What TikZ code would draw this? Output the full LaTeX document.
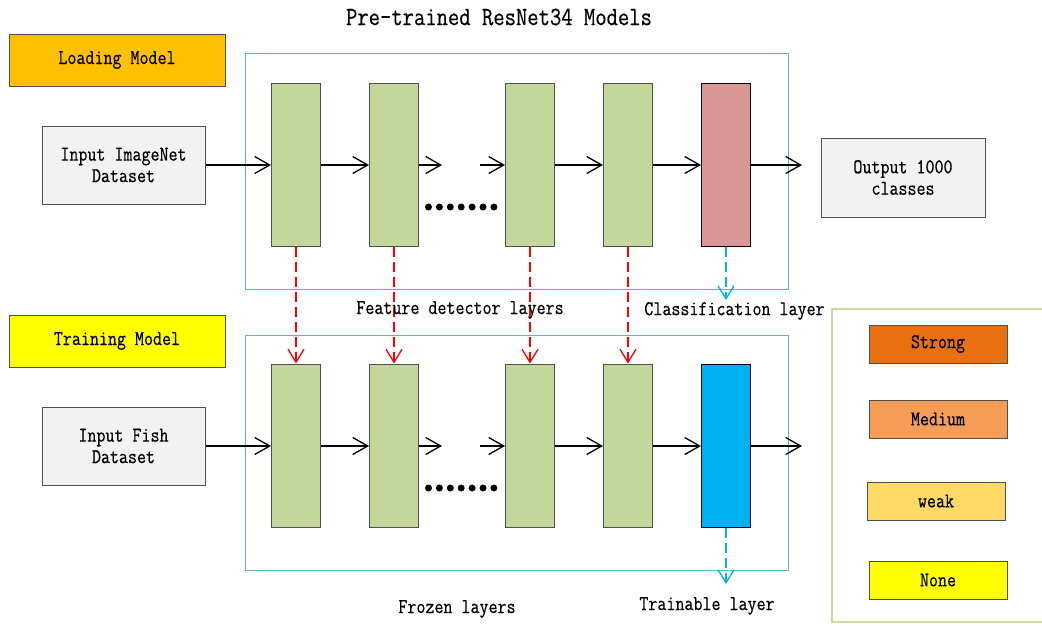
\documentclass[tikz,border=0pt]{standalone}
\usepackage{fontspec}
\usepackage{graphicx}
\setmonofont{Latin Modern Mono}[FakeBold=0.5]
\usetikzlibrary{arrows.meta}
\newcommand\tallt[1]{\scalebox{1}[1.2]{#1}}
\definecolor{frameblue}{RGB}{91,180,210}
\definecolor{legendgreen}{RGB}{195,224,160}
\definecolor{layergreen}{RGB}{196,215,155}
\definecolor{layerred}{RGB}{217,150,148}
\definecolor{layerblue}{RGB}{0,176,240}
\definecolor{inputgrey}{RGB}{242,242,242}
\definecolor{loadorange}{RGB}{255,192,0}
\definecolor{strongc}{RGB}{233,112,16}
\definecolor{mediumc}{RGB}{245,157,86}
\definecolor{weakc}{RGB}{255,217,102}
\definecolor{nonec}{RGB}{255,255,0}
\definecolor{edgegrey}{RGB}{80,80,80}
\definecolor{dashred}{RGB}{255,0,0}
\tikzset{
  txt/.style={font=\ttfamily\fontsize{17.5}{21.5}\selectfont, align=center},
  layerbox/.style={draw=edgegrey, line width=1pt, minimum width=49pt, minimum height=163pt, inner sep=0pt},
  labelbox/.style={draw=edgegrey, line width=1pt, inner sep=0pt, txt},
  flow/.style={line width=1.5pt, -{Straight Barb[length=15pt,width=17pt,line width=1.3pt]}},
  redflow/.style={color=dashred, line width=2pt, dash pattern=on 10pt off 5pt, -{Straight Barb[length=13pt,width=16pt,line width=1.3pt]}},
  blueflow/.style={color=layerblue, line width=2pt, dash pattern=on 10pt off 5pt, -{Straight Barb[length=13pt,width=16pt,line width=1.3pt]}},
  dot/.style={circle, fill=black, minimum size=7pt, inner sep=0pt},
  frame/.style={draw=frameblue, line width=1pt},
}
\begin{document}
\begin{tikzpicture}[x=1pt,y=-1pt]
\useasboundingbox (0,0) rectangle (1042,625);

% title
\node[txt, font=\ttfamily\fontsize{22}{24}\selectfont] (title) at (499,17) {\tallt{Pre-trained ResNet34 Models}};

% frames
\node[frame, minimum width=543pt, minimum height=236pt, inner sep=0pt] (topframe) at (516.5,171) {};
\node[frame, minimum width=543pt, minimum height=235pt, inner sep=0pt] (botframe) at (516.5,452.5) {};
\draw[draw=legendgreen, line width=1.5pt] (1045,309) -- (832,309) -- (832,622) -- (1045,622);

% side labels
\node[labelbox, fill=loadorange, minimum width=216pt, minimum height=52pt] (loading) at (117,60) {\tallt{Loading Model}};
\node[labelbox, fill=nonec, minimum width=216pt, minimum height=52pt] (training) at (117,341) {\tallt{Training Model}};

% input / output boxes
\node[labelbox, fill=inputgrey, minimum width=163pt, minimum height=78pt] (in1) at (123.5,165) {\tallt{Input ImageNet}\\\tallt{Dataset}};
\node[labelbox, fill=inputgrey, minimum width=163pt, minimum height=78pt] (in2) at (123.5,446) {\tallt{Input Fish}\\\tallt{Dataset}};
\node[labelbox, fill=inputgrey, minimum width=164pt, minimum height=79pt] (out1) at (903,177.5) {\tallt{Output 1000}\\\tallt{classes}};

% top layers
\node[layerbox, fill=layergreen] (t1) at (296,164.5) {};
\node[layerbox, fill=layergreen] (t2) at (394,164.5) {};
\node[layerbox, fill=layergreen] (t3) at (530,164.5) {};
\node[layerbox, fill=layergreen] (t4) at (628,164.5) {};
\node[layerbox, fill=layerred, draw=black] (t5) at (726,164.5) {};

% bottom layers
\node[layerbox, fill=layergreen] (b1) at (296,445.5) {};
\node[layerbox, fill=layergreen] (b2) at (394,445.5) {};
\node[layerbox, fill=layergreen] (b3) at (530,445.5) {};
\node[layerbox, fill=layergreen] (b4) at (628,445.5) {};
\node[layerbox, fill=layerblue, draw=black] (b5) at (726,445.5) {};

% coordinates for stub arrows
\coordinate (tgapend) at (442,165);
\coordinate (tgapstart) at (480,165);
\coordinate (tout) at (802,165);
\coordinate (bgapend) at (442,446);
\coordinate (bgapstart) at (480,446);
\coordinate (bout) at (802,446);
\coordinate (tcls) at (726,300);
\coordinate (btrn) at (726,584);

% top flow
\draw[flow] (in1.east |- 0,165) -- (t1.west |- 0,165);
\draw[flow] (t1.east |- 0,165) -- (t2.west |- 0,165);
\draw[flow] (t2.east |- 0,165) -- (tgapend);
\draw[flow] (tgapstart) -- (t3.west |- 0,165);
\draw[flow] (t3.east |- 0,165) -- (t4.west |- 0,165);
\draw[flow] (t4.east |- 0,165) -- (t5.west |- 0,165);
\draw[flow] (t5.east |- 0,165) -- (tout);

% bottom flow
\draw[flow] (in2.east |- 0,446) -- (b1.west |- 0,446);
\draw[flow] (b1.east |- 0,446) -- (b2.west |- 0,446);
\draw[flow] (b2.east |- 0,446) -- (bgapend);
\draw[flow] (bgapstart) -- (b3.west |- 0,446);
\draw[flow] (b3.east |- 0,446) -- (b4.west |- 0,446);
\draw[flow] (b4.east |- 0,446) -- (b5.west |- 0,446);
\draw[flow] (b5.east |- 0,446) -- (bout);

% dots
\foreach \i in {0,...,6} {
  \node[dot] (td\i) at (428.5+10.9*\i,207) {};
  \node[dot] (bd\i) at (428.5+10.9*\i,488) {};
}

% transfer arrows
\draw[redflow] (t1.south) -- (b1.north);
\draw[redflow] (t2.south) -- (b2.north);
\draw[redflow] (t3.south) -- (b3.north);
\draw[redflow] (t4.south) -- (b4.north);
\draw[blueflow] (t5.south) -- (tcls);
\draw[blueflow] (b5.south) -- (btrn);

% captions
\node[txt] (featcap) at (460,310) {\tallt{Feature detector layers}};
\node[txt] (clscap) at (734.5,311) {\tallt{Classification layer}};
\node[txt] (frozcap) at (457,609) {\tallt{Frozen layers}};
\node[txt] (traincap) at (707,606) {\tallt{Trainable layer}};

% legend
\node[labelbox, fill=strongc, minimum width=138pt, minimum height=38pt] (strong) at (938,344) {\tallt{Strong}};
\node[labelbox, fill=mediumc, minimum width=138pt, minimum height=38pt] (medium) at (938,419) {\tallt{Medium}};
\node[labelbox, fill=weakc, minimum width=138pt, minimum height=38pt] (weak) at (936,501) {\tallt{weak}};
\node[labelbox, fill=nonec, minimum width=138pt, minimum height=38pt] (none) at (938,580) {\tallt{None}};
\end{tikzpicture}
\end{document}
